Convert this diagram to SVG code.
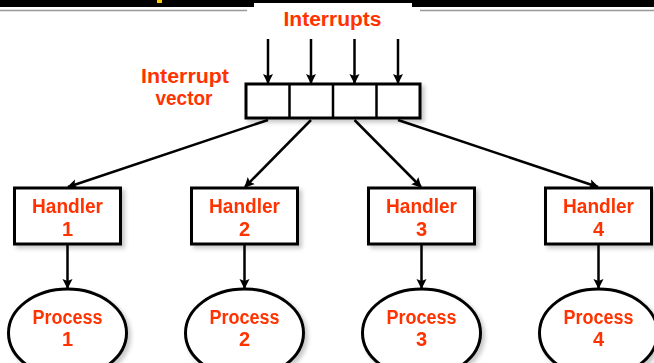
<svg xmlns="http://www.w3.org/2000/svg" width="654" height="363" viewBox="0 0 654 363">
<defs>
<style>
.t{font-family:"Liberation Sans",Arial,sans-serif;font-weight:bold;font-size:20px;fill:#FF3300;text-anchor:middle}
.box{fill:#fff;stroke:#000;stroke-width:3}
.ln{stroke:#000;stroke-width:2.5;fill:none}
</style>
<filter id="sh" x="-20%" y="-20%" width="150%" height="150%">
<feDropShadow dx="3" dy="3" stdDeviation="2" flood-color="#000" flood-opacity="0.22"/>
</filter>
<marker id="ah" viewBox="0 0 10 12" refX="9" refY="6" markerWidth="10" markerHeight="12" markerUnits="userSpaceOnUse" orient="auto">
<path d="M0,1 L10,6 L0,11 L2,6 Z" fill="#000"/>
</marker>
</defs>
<rect width="654" height="363" fill="#fff"/>
<g id="header">
<rect x="0" y="0" width="654" height="7" fill="#000"/>
<rect x="254" y="3" width="158" height="10" fill="#fff"/>
<rect x="157" y="0" width="5" height="3" fill="#FFCC00"/>
<line x1="0" y1="10.5" x2="247" y2="10.5" stroke="#999" stroke-width="1.5"/>
<line x1="420" y1="10.5" x2="654" y2="10.5" stroke="#999" stroke-width="1.5"/>
</g>
<g id="interrupts-label">
<text class="t" x="332.5" y="26" textLength="98" lengthAdjust="spacingAndGlyphs">Interrupts</text>
</g>
<g id="vector-label">
<text class="t" x="185" y="83" textLength="88" lengthAdjust="spacingAndGlyphs">Interrupt</text>
<text class="t" x="184" y="105" textLength="57" lengthAdjust="spacingAndGlyphs">vector</text>
</g>
<g id="interrupt-vector" filter="url(#sh)">
<rect class="box" x="246" y="84" width="174" height="34"/>
<line class="ln" x1="289.5" y1="84" x2="289.5" y2="118" stroke-width="3"/>
<line class="ln" x1="333" y1="84" x2="333" y2="118" stroke-width="3"/>
<line class="ln" x1="376.5" y1="84" x2="376.5" y2="118" stroke-width="3"/>
</g>
<g id="handler1" filter="url(#sh)">
<rect class="box" x="14.5" y="188" width="106" height="56"/>
<text class="t" x="67.5" y="213" textLength="71" lengthAdjust="spacingAndGlyphs">Handler</text>
<text class="t" x="67.5" y="236">1</text>
</g>
<g id="handler2" filter="url(#sh)">
<rect class="box" x="191.5" y="188" width="106" height="56"/>
<text class="t" x="244.5" y="213" textLength="71" lengthAdjust="spacingAndGlyphs">Handler</text>
<text class="t" x="244.5" y="236">2</text>
</g>
<g id="handler3" filter="url(#sh)">
<rect class="box" x="368.5" y="188" width="106" height="56"/>
<text class="t" x="421.5" y="213" textLength="71" lengthAdjust="spacingAndGlyphs">Handler</text>
<text class="t" x="421.5" y="236">3</text>
</g>
<g id="handler4" filter="url(#sh)">
<rect class="box" x="545.5" y="188" width="106" height="56"/>
<text class="t" x="598.5" y="213" textLength="71" lengthAdjust="spacingAndGlyphs">Handler</text>
<text class="t" x="598.5" y="236">4</text>
</g>
<g id="process1" filter="url(#sh)">
<ellipse class="box" cx="67.5" cy="333" rx="59" ry="44"/>
<text class="t" x="67.5" y="324" textLength="70" lengthAdjust="spacingAndGlyphs">Process</text>
<text class="t" x="67.5" y="346">1</text>
</g>
<g id="process2" filter="url(#sh)">
<ellipse class="box" cx="244.5" cy="333" rx="59" ry="44"/>
<text class="t" x="244.5" y="324" textLength="70" lengthAdjust="spacingAndGlyphs">Process</text>
<text class="t" x="244.5" y="346">2</text>
</g>
<g id="process3" filter="url(#sh)">
<ellipse class="box" cx="421.5" cy="333" rx="59" ry="44"/>
<text class="t" x="421.5" y="324" textLength="70" lengthAdjust="spacingAndGlyphs">Process</text>
<text class="t" x="421.5" y="346">3</text>
</g>
<g id="process4" filter="url(#sh)">
<ellipse class="box" cx="598.5" cy="333" rx="59" ry="44"/>
<text class="t" x="598.5" y="324" textLength="70" lengthAdjust="spacingAndGlyphs">Process</text>
<text class="t" x="598.5" y="346">4</text>
</g>
<g id="connectors" class="ln">
<line x1="268" y1="39" x2="268" y2="83" marker-end="url(#ah)"/>
<line x1="311" y1="39" x2="311" y2="83" marker-end="url(#ah)"/>
<line x1="354.5" y1="39" x2="354.5" y2="83" marker-end="url(#ah)"/>
<line x1="398" y1="39" x2="398" y2="83" marker-end="url(#ah)"/>
<line x1="268" y1="120" x2="68" y2="187" marker-end="url(#ah)"/>
<line x1="311" y1="120" x2="245" y2="187" marker-end="url(#ah)"/>
<line x1="354.5" y1="120" x2="421" y2="187" marker-end="url(#ah)"/>
<line x1="398" y1="120" x2="598" y2="187" marker-end="url(#ah)"/>
<line x1="67.5" y1="245" x2="67.5" y2="288" marker-end="url(#ah)"/>
<line x1="244.5" y1="245" x2="244.5" y2="288" marker-end="url(#ah)"/>
<line x1="421.5" y1="245" x2="421.5" y2="288" marker-end="url(#ah)"/>
<line x1="598.5" y1="245" x2="598.5" y2="288" marker-end="url(#ah)"/>
</g>
</svg>
